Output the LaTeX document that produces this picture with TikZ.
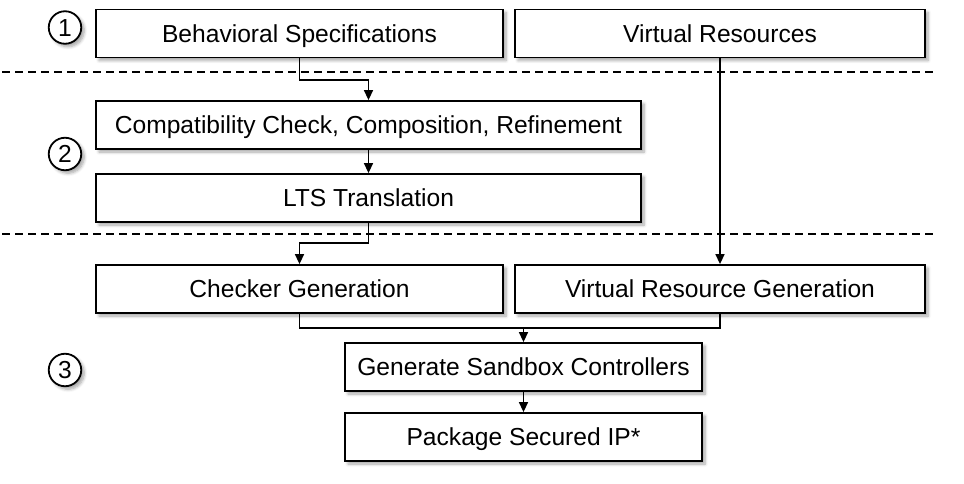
\documentclass[tikz,border=0pt]{standalone}
\usepackage{fontspec}
\setmainfont{Liberation Sans}
\usetikzlibrary{arrows.meta,shadows.blur}
\begin{document}
\begin{tikzpicture}[x=1pt,y=-1pt,
  font=\fontsize{24.6}{28}\selectfont,
  shadowed/.style={blur shadow={shadow xshift=3pt,shadow yshift=-3pt,shadow blur steps=6,shadow opacity=35,shadow blur radius=3pt}},
  box/.style={draw=black,line width=1.8pt,fill=white,minimum height=48pt,inner sep=0pt,
    text height=17.6pt,text depth=0pt,shadowed},
  num/.style={draw=black,line width=1.8pt,fill=white,circle,minimum size=32.5pt,inner sep=0pt,
    text height=17.6pt,text depth=0pt,shadowed},
  conn/.style={line width=1.5pt,draw=black},
  arr/.style={conn,-{Triangle[length=10pt,width=9pt]}},
  sep/.style={line width=1.4pt,dash pattern=on 8pt off 5pt}]
\useasboundingbox (0,0) rectangle (964,484);
% separators
\coordinate (d1a) at (2,72);  \coordinate (d1b) at (935,72);
\coordinate (d2a) at (2,234); \coordinate (d2b) at (935,234);
\draw[sep] (d1a) -- (d1b);
\draw[sep] (d2a) -- (d2b);
% boxes
\node[box,minimum width=407pt] (bs)  at (299.5,33.5) {Behavioral Specifications};
\node[box,minimum width=410pt] (vr)  at (720,33.5)   {Virtual Resources};
\node[box,minimum width=545pt] (cc)  at (368.5,125) {Compatibility Check, Composition, Refinement};
\node[box,minimum width=545pt] (lts) at (368.5,198)  {LTS Translation};
\node[box,minimum width=407pt] (cg)  at (299.5,289)  {Checker Generation};
\node[box,minimum width=410pt] (vrg) at (720,289)    {Virtual Resource Generation};
\node[box,minimum width=357pt] (gsc) at (523.5,367)  {Generate Sandbox Controllers};
\node[box,minimum width=357pt] (pkg) at (523.5,437)  {Package Secured IP*};
% step numbers
\node[num] (n1) at (65,27.5) {1};
\node[num] (n2) at (65,154)  {2};
\node[num] (n3) at (65,370)  {3};
% connectors
\coordinate (j1) at (368.5,80);
\coordinate (j2) at (299.5,243);
\coordinate (j3) at (523.5,328);
\draw[arr] (bs.south) |- (j1) -- (cc.north);
\draw[arr] (cc.south) -- (lts.north);
\draw[arr] (lts.south) |- (j2) -- (cg.north);
\draw[arr] (vr.south) -- (vrg.north);
\draw[conn] (cg.south) |- (j3);
\draw[conn] (vrg.south) |- (j3);
\draw[arr] (j3) -- (gsc.north);
\draw[arr] (gsc.south) -- (pkg.north);
\end{tikzpicture}
\end{document}
